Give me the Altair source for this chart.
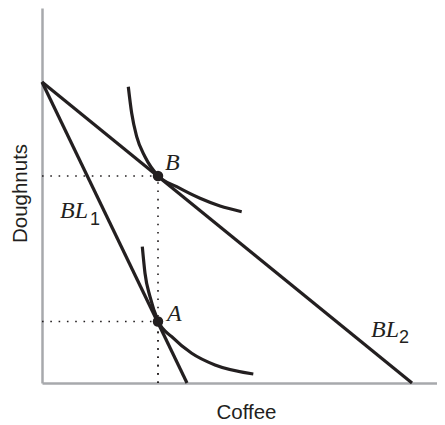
import altair as alt
import pandas as pd

# Budget lines (Coffee, Doughnuts)
bl_names = ["BL1", "BL1", "BL2", "BL2"]
bl_x = [0, 145, 0, 370]
bl_y = [301, 0, 301, 0]

# Indifference curves
icB_x = [86.3, 89.7, 94.7, 103.0, 116.3, 134.7, 158.0, 178.0, 199.7]
icB_y = [296.3, 269.7, 246.3, 226.3, 207.0, 196.3, 184.7, 177.0, 171.3]
icA_x = [100.3, 103.0, 108.0, 116.3, 129.7, 149.7, 173.0, 211.3]
icA_y = [136.3, 109.7, 86.3, 61.5, 46.3, 29.7, 18.0, 9.0]

# Optimal bundles
pt_names = ["A", "B"]
pt_x = [116, 116]
pt_y = [61.5, 207]

# Labels
lab_text = ["B", "A", "BL", "BL"]
lab_x = [123, 125, 18, 329]
lab_y = [213.5, 62, 165, 46]
sub_text = ["1", "2"]
sub_x = [48, 357]
sub_y = [158, 40]

INK = "#231f20"
W, H = 395, 375

xs = alt.Scale(domain=[0, W], nice=False, zero=False)
ys = alt.Scale(domain=[0, H], nice=False, zero=False)

bl_df = pd.DataFrame({"name": bl_names, "x": bl_x, "y": bl_y})
ic_df = pd.concat([
    pd.DataFrame({"name": "B", "x": icB_x, "y": icB_y}),
    pd.DataFrame({"name": "A", "x": icA_x, "y": icA_y}),
])
pt_df = pd.DataFrame({"name": pt_names, "x": pt_x, "y": pt_y})
seg_rows = []
for px, py in zip(pt_x, pt_y):
    seg_rows.append({"x": 0, "x2": px, "y": py, "y2": py})
    seg_rows.append({"x": px, "x2": px, "y": 0, "y2": py})
seg_df = pd.DataFrame(seg_rows)
lab_df = pd.DataFrame({"t": lab_text, "x": lab_x, "y": lab_y})
sub_df = pd.DataFrame({"t": sub_text, "x": sub_x, "y": sub_y})

xenc = alt.X("x:Q", scale=xs, axis=alt.Axis(
    title="Coffee", labels=False, ticks=False, grid=False,
    domainColor="#a7a9ac", domainWidth=2.5,
    titleFont="Liberation Sans", titleFontSize=20.5, titleFontWeight="normal",
    titleColor=INK, titleBaseline="alphabetic", titleAlign="center",
    titleX=204, titleY=35))
yenc = alt.Y("y:Q", scale=ys, axis=alt.Axis(
    title="Doughnuts", labels=False, ticks=False, grid=False,
    domainColor="#a7a9ac", domainWidth=2.5,
    titleFont="Liberation Sans", titleFontSize=20.5, titleFontWeight="normal",
    titleColor=INK, titleBaseline="alphabetic", titleAlign="center",
    titleX=-15.5, titleY=185))

dots = alt.Chart(seg_df).mark_rule(
    color=INK, strokeWidth=1.6, strokeDash=[1.6, 6.7]
).encode(x=xenc, x2="x2:Q", y=yenc, y2="y2:Q")

bl = alt.Chart(bl_df).mark_line(color=INK, strokeWidth=3.2).encode(
    x=xenc, y=yenc, detail="name:N")

ic = alt.Chart(ic_df).mark_line(
    color=INK, strokeWidth=3.2, interpolate="monotone"
).encode(x=xenc, y=yenc, detail="name:N", order="x:Q")

pts = alt.Chart(pt_df).mark_circle(color=INK, opacity=1, size=110).encode(
    x=xenc, y=yenc)

labs = alt.Chart(lab_df).mark_text(
    font="Liberation Serif", fontStyle="italic", fontSize=24,
    align="left", baseline="alphabetic", color=INK
).encode(x=xenc, y=yenc, text="t:N")

subs = alt.Chart(sub_df).mark_text(
    font="Liberation Sans", fontSize=18,
    align="left", baseline="alphabetic", color=INK
).encode(x=xenc, y=yenc, text="t:N")

chart = alt.layer(dots, bl, ic, pts, labs, subs).properties(
    width=W, height=H,
    autosize=alt.AutoSizeParams(type="none"),
    padding={"left": 34, "top": 0, "right": 0, "bottom": 41},
).configure_view(stroke=None)

chart.save("out.html", embed_options={"renderer": "svg", "actions": False})
